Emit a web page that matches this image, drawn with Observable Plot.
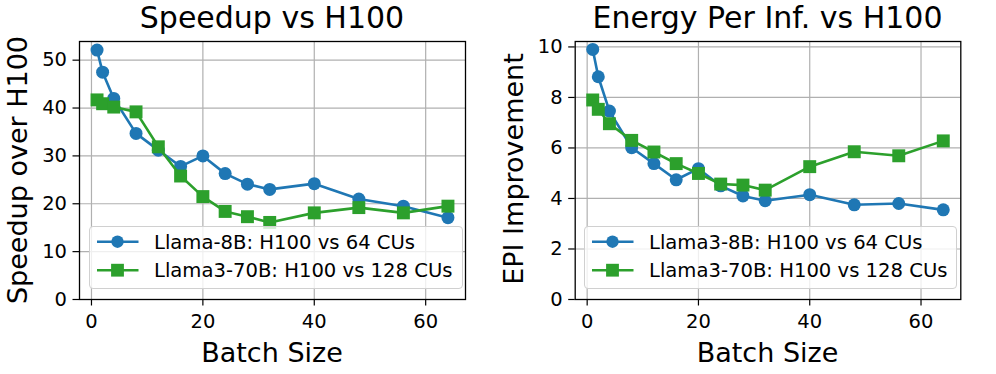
<!DOCTYPE html>
<html><head><meta charset="utf-8">
<script src="https://cdn.jsdelivr.net/npm/d3@7"></script>
<script src="https://cdn.jsdelivr.net/npm/@observablehq/plot@0.6"></script>
<style>
body{margin:0;background:#fff;font-family:"DejaVu Sans",sans-serif;}
#root{position:relative;width:996px;height:374px;overflow:hidden;background:#fff;}
.panel{position:absolute;top:0;}
.txt{position:absolute;white-space:nowrap;line-height:1;color:#000;font-family:"DejaVu Sans",sans-serif;}
.legend{position:absolute;border:1px solid #d0d0d0;border-radius:4px;background:rgba(255,255,255,0.8);box-sizing:border-box;}
</style></head><body><div id="root"></div>
<script>
// ---- data ----
const batchSizes = [1, 2, 4, 8, 12, 16, 20, 24, 28, 32, 40, 48, 56, 64];
const speedup8B  = [52.1, 47.5, 42.0, 34.7, 31.2, 27.8, 30.0, 26.3, 24.1, 23.0, 24.2, 21.0, 19.5, 17.1];
const speedup70B = [41.7, 40.9, 40.2, 39.2, 31.9, 25.8, 21.5, 18.4, 17.3, 16.1, 18.1, 19.2, 18.1, 19.5];
const epi8B  = [9.9, 8.82, 7.46, 6.01, 5.38, 4.74, 5.18, 4.5, 4.1, 3.91, 4.15, 3.75, 3.8, 3.55];
const epi70B = [7.9, 7.53, 6.96, 6.3, 5.84, 5.38, 4.99, 4.57, 4.53, 4.33, 5.26, 5.85, 5.69, 6.28];
const xTicks = [0, 20, 40, 60];
const speedupTicks = [0, 10, 20, 30, 40, 50];
const epiTicks = [0, 2, 4, 6, 8, 10];
const titles = ["Speedup vs H100", "Energy Per Inf. vs H100"];
const yLabels = ["Speedup over H100", "EPI Improvement"];
const xLabel = "Batch Size";
const legendLeft = ["Llama-8B: H100 vs 64 CUs", "Llama3-70B: H100 vs 128 CUs"];
const legendRight = ["Llama3-8B: H100 vs 64 CUs", "Llama3-70B: H100 vs 128 CUs"];

const BLUE = "#1f77b4", GREEN = "#2ca02c";
const root = document.getElementById("root");

function panel({left, marginLeft, marginRight, yDomain, yTicks, a, b}) {
  const A = batchSizes.map((x, i) => ({x, y: a[i]}));
  const B = batchSizes.map((x, i) => ({x, y: b[i]}));
  const chart = Plot.plot({
    width: 500, height: 374,
    marginLeft, marginRight, marginTop: 41, marginBottom: 75,
    style: {fontFamily: "DejaVu Sans", fontSize: "19.5px", color: "#000", background: "transparent"},
    x: {domain: [-2.15, 67.15]},
    y: {domain: yDomain},
    marks: [
      Plot.gridX(xTicks, {stroke: "#b0b0b0", strokeOpacity: 1, strokeWidth: 1.2}),
      Plot.gridY(yTicks, {stroke: "#b0b0b0", strokeOpacity: 1, strokeWidth: 1.2}),
      Plot.axisX(xTicks, {tickSize: 6.5, tickPadding: 8.5, label: null, fontSize: 19.5, strokeWidth: 1.2}),
      Plot.axisY(yTicks, {tickSize: 6.5, tickPadding: 6, label: null, fontSize: 19.5, strokeWidth: 1.2}),
      Plot.line(A, {x: "x", y: "y", stroke: BLUE, strokeWidth: 2.6}),
      Plot.dot(A, {x: "x", y: "y", fill: BLUE, r: 6.5, symbol: "circle"}),
      Plot.line(B, {x: "x", y: "y", stroke: GREEN, strokeWidth: 2.6}),
      Plot.dot(B, {x: "x", y: "y", fill: GREEN, r: 7.3, symbol: "square"}),
      Plot.frame({stroke: "#000", strokeWidth: 1.3})
    ]
  });
  chart.classList.add("panel");
  chart.style.left = left + "px";
  root.appendChild(chart);
}

function addText(str, cx, baseline, fs, rotate) {
  const d = document.createElement("div");
  d.className = "txt";
  d.textContent = str;
  d.style.fontSize = fs + "px";
  d.style.left = cx + "px";
  if (!rotate) {
    d.style.top = (baseline - 0.846 * fs) + "px";
    d.style.transform = "translateX(-50%)";
  } else {
    d.style.top = baseline + "px";
    d.style.transform = "translate(-50%,-50%) rotate(-90deg)";
  }
  root.appendChild(d);
}

function legend(left, top, width, labels) {
  const d = document.createElement("div");
  d.className = "legend";
  d.style.left = left + "px"; d.style.top = top + "px";
  d.style.width = width + "px"; d.style.height = "63px";
  const ns = "http://www.w3.org/2000/svg";
  const svg = document.createElementNS(ns, "svg");
  svg.setAttribute("width", width); svg.setAttribute("height", 63);
  svg.style.position = "absolute"; svg.style.left = "-1px"; svg.style.top = "-1px";
  const entries = [[BLUE, "circle", 15.7, labels[0]], [GREEN, "square", 44.2, labels[1]]];
  for (const [c, sym, y, t] of entries) {
    const l = document.createElementNS(ns, "line");
    l.setAttribute("x1", 8); l.setAttribute("x2", 49.5); l.setAttribute("y1", y); l.setAttribute("y2", y);
    l.setAttribute("stroke", c); l.setAttribute("stroke-width", 2.6);
    svg.appendChild(l);
    if (sym === "circle") {
      const m = document.createElementNS(ns, "circle");
      m.setAttribute("cx", 28.5); m.setAttribute("cy", y); m.setAttribute("r", 6.2); m.setAttribute("fill", c);
      svg.appendChild(m);
    } else {
      const m = document.createElementNS(ns, "rect");
      m.setAttribute("x", 28.5 - 6.4); m.setAttribute("y", y - 6.4); m.setAttribute("width", 12.8); m.setAttribute("height", 12.8); m.setAttribute("fill", c);
      svg.appendChild(m);
    }
    const tx = document.createElementNS(ns, "text");
    tx.setAttribute("x", 65); tx.setAttribute("y", y + 7);
    tx.setAttribute("font-family", "DejaVu Sans"); tx.setAttribute("font-size", 19.6);
    tx.textContent = t;
    svg.appendChild(tx);
  }
  d.appendChild(svg);
  root.appendChild(d);
}

panel({left: 0, marginLeft: 79, marginRight: 35, yDomain: [0, 53.9], yTicks: speedupTicks, a: speedup8B, b: speedup70B});
panel({left: 496, marginLeft: 78.7, marginRight: 35.7, yDomain: [0, 10.215], yTicks: epiTicks, a: epi8B, b: epi70B});

addText(titles[0], 272, 28, 30);
addText(titles[1], 767.5, 28, 30);
addText(xLabel, 272, 362, 27);
addText(xLabel, 767.5, 362, 27);
addText(yLabels[0], 17.4, 170, 27, true);
addText(yLabels[1], 513, 169, 27, true);

legend(89, 226, 374, legendLeft);
legend(584, 226, 373, legendRight);
</script>
</body></html>
